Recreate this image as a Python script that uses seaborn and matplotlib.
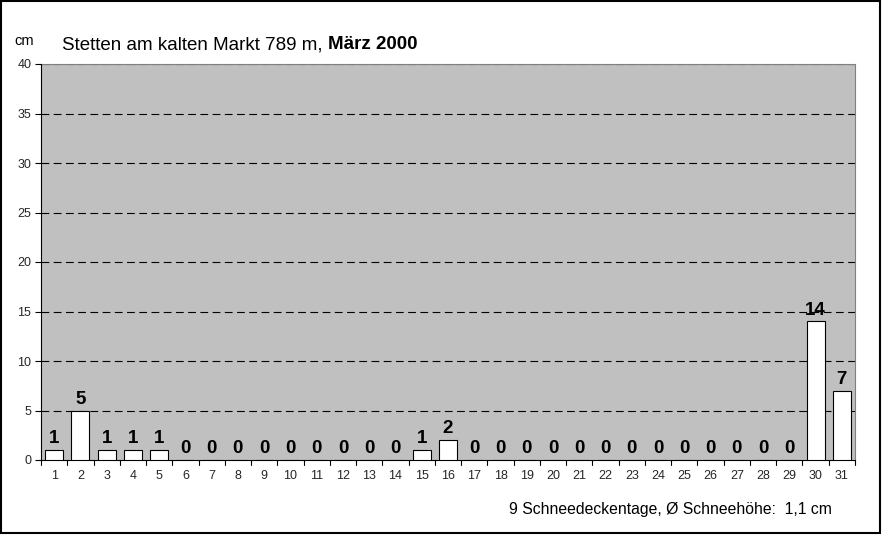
import matplotlib
matplotlib.use("Agg")
import matplotlib.pyplot as plt
import seaborn as sns
import pandas as pd
from matplotlib.patches import Rectangle

days = [str(d) for d in range(1, 32)]
snow = [1, 5, 1, 1, 1, 0, 0, 0, 0, 0, 0, 0, 0, 0, 1, 2, 0, 0, 0, 0, 0, 0, 0, 0, 0, 0, 0, 0, 0, 14, 7]
title_normal = "Stetten am kalten Markt 789 m, "
title_bold = "März 2000"
footer = "9 Schneedeckentage, Ø Schneehöhe:  1,1 cm"
yticks = [0, 5, 10, 15, 20, 25, 30, 35, 40]

sns.set_theme(style="white")
plt.rcParams['font.family'] = ['Liberation Sans', 'DejaVu Sans']

df = pd.DataFrame({"day": days, "snow": snow})

fig = plt.figure(figsize=(8.82, 5.35), dpi=100)
ax = fig.add_axes([41/882, 75/535, (855-41)/882, (460-64)/535])
ax.set_facecolor("#C0C0C0")

sns.barplot(data=df, x="day", y="snow", order=days, color="white",
            edgecolor="black", linewidth=0.8, width=0.68, saturation=1, ax=ax, zorder=3)

ax.set_ylim(0, 40)
ax.set_xlim(-0.5, len(days) - 0.5)
ax.set_yticks(yticks)
ax.set_yticklabels([str(t) for t in yticks], fontsize=9)
for t in yticks[1:]:
    ax.axhline(t, color="black", linestyle=(0, (7, 4)), linewidth=0.8, zorder=1)

ax.set_xticks(range(len(days)))
ax.set_xticklabels(days, fontsize=9)
ax.tick_params(axis="x", length=0, pad=7)
ax.tick_params(axis="y", length=4, width=0.8, color="black", left=True, pad=3)
for b in range(len(days) + 1):
    ax.plot([b - 0.5, b - 0.5], [0, -0.012], transform=ax.get_xaxis_transform(),
            color="black", linewidth=0.8, clip_on=False)

ax.set_xlabel("")
ax.set_ylabel("")
for s in ["top", "right"]:
    ax.spines[s].set_visible(False)
ax.spines["left"].set_color("black")
ax.spines["bottom"].set_color("black")
ax.spines["left"].set_linewidth(0.8)
ax.spines["bottom"].set_linewidth(0.8)
ax.plot([1, 1], [0, 1], transform=ax.transAxes, color="#808080", linewidth=0.8, clip_on=False)
ax.plot([0, 1], [1, 1], transform=ax.transAxes, color="#808080", linewidth=0.8, clip_on=False)

ax.bar_label(ax.containers[0], labels=[str(v) for v in snow], fontsize=13.5,
             fontweight="bold", padding=2, color="black")

fig.text(14/882, 1 - 45/535, "cm", fontsize=10.5, color="black", va="baseline")
t1 = fig.text(62/882, 1 - 49/535, title_normal, fontsize=13.5, color="black", va="baseline")
fig.canvas.draw()
bb = t1.get_window_extent()
fig.text(bb.x1 / fig.bbox.width, 1 - 49/535, title_bold, fontsize=13.5, fontweight="bold",
         color="black", va="baseline")
fig.text(670/882, 1 - 514/535, footer, fontsize=11.3, color="black", ha="center", va="baseline")

fig.patches.append(Rectangle((0.001, 0.003), 0.997, 0.995, transform=fig.transFigure,
                             fill=False, edgecolor="black", linewidth=1.5))

fig.savefig("out.png", dpi=100)
